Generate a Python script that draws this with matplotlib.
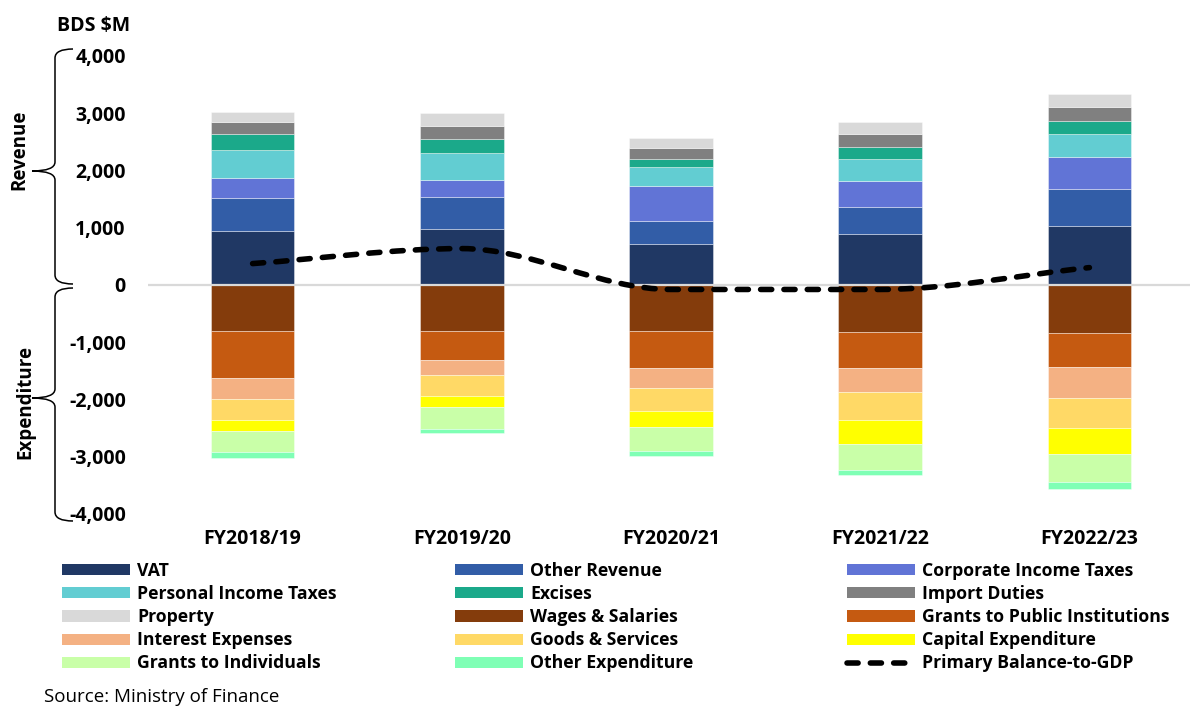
import matplotlib
matplotlib.use("Agg")
import matplotlib.pyplot as plt
import numpy as np
from matplotlib.path import Path
from matplotlib.patches import PathPatch, Patch
from matplotlib.lines import Line2D
from matplotlib.ticker import FuncFormatter

plt.rcParams['font.family'] = ['Open Sans', 'DejaVu Sans']

# Data (BDS $M)
categories = ['FY2018/19', 'FY2019/20', 'FY2020/21', 'FY2021/22', 'FY2022/23']

# Revenue
vat = [950, 978, 716, 898, 1038]
other_revenue = [570, 559, 409, 465, 646]
corporate_tax = [350, 304, 604, 447, 552]
personal_tax = [490, 460, 326, 390, 396]
excises = [270, 257, 145, 215, 239]
import_duties = [220, 220, 187, 217, 238]
property_tax = [165, 222, 187, 210, 222]

# Expenditure
wages = [803, 797, 797, 826, 844]
grants_public = [814, 519, 658, 629, 588]
interest = [379, 256, 349, 407, 547]
goods_services = [367, 372, 396, 489, 524]
capital_exp = [187, 187, 279, 431, 454]
grants_individuals = [367, 390, 424, 454, 484]
other_exp = [110, 70, 87, 82, 122]

# Primary balance line, drawn on the same scale
primary_balance = [374, 636, -78, -78, 304]

revenue = [
    ('VAT', vat, '#203864'),
    ('Other Revenue', other_revenue, '#325DA7'),
    ('Corporate Income Taxes', corporate_tax, '#6174D6'),
    ('Personal Income Taxes', personal_tax, '#62CDD2'),
    ('Excises', excises, '#1BA98A'),
    ('Import Duties', import_duties, '#808080'),
    ('Property', property_tax, '#D9D9D9'),
]
expenditure = [
    ('Wages & Salaries', wages, '#843C0C'),
    ('Grants to Public Institutions', grants_public, '#C55A11'),
    ('Interest Expenses', interest, '#F4B183'),
    ('Goods & Services', goods_services, '#FFD966'),
    ('Capital Expenditure', capital_exp, '#FFFF00'),
    ('Grants to Individuals', grants_individuals, '#C9FFA8'),
    ('Other Expenditure', other_exp, '#7FFFB5'),
]

W, H = 1190, 709
FS_TICK = 14
FS_LEG = 12.7
fig = plt.figure(figsize=(W / 100, H / 100), dpi=100)
ax = fig.add_axes([148 / W, 1 - 514 / H, 1046 / W, 458 / H])

x = np.arange(len(categories))
bw = 0.4
edge = (1, 1, 1, 0.45)

bottom = np.zeros(len(x))
for name, vals, col in revenue:
    v = np.array(vals, dtype=float)
    ax.bar(x, v, bottom=bottom, width=bw, color=col, edgecolor=edge, linewidth=0.6, zorder=2)
    bottom += v

bottom = np.zeros(len(x))
for name, vals, col in expenditure:
    v = -np.array(vals, dtype=float)
    ax.bar(x, v, bottom=bottom, width=bw, color=col, edgecolor=edge, linewidth=0.6, zorder=2)
    bottom += v

ax.axhline(0, color='#D9D9D9', lw=1.6, zorder=2.5)

# smoothed line through the points (monotone tangents, no overshoot)
xs = x.astype(float)
ys = np.array(primary_balance, dtype=float)
d = np.diff(ys) / np.diff(xs)
m = np.zeros(len(ys))
m[0], m[-1] = d[0], d[-1]
for i in range(1, len(ys) - 1):
    if d[i - 1] * d[i] > 0:
        m[i] = 2 / (1 / d[i - 1] + 1 / d[i])
verts = [(xs[0], ys[0])]
codes = [Path.MOVETO]
for i in range(len(xs) - 1):
    h = xs[i + 1] - xs[i]
    verts += [(xs[i] + h / 3, ys[i] + m[i] * h / 3),
              (xs[i + 1] - h / 3, ys[i + 1] - m[i + 1] * h / 3),
              (xs[i + 1], ys[i + 1])]
    codes += [Path.CURVE4] * 3
line_style = (0, (2.0, 2.2))
ax.add_patch(PathPatch(Path(verts, codes), fill=False, edgecolor='black', lw=4,
                       linestyle=line_style, capstyle='round', zorder=3))

ax.set_xlim(-0.5, 4.5)
ax.set_ylim(-4000, 4000)
ax.set_yticks(np.arange(-4000, 4001, 1000))
ax.yaxis.set_major_formatter(FuncFormatter(lambda v, p: f'{v:,.0f}'))
ax.set_xticks(x)
ax.set_xticklabels(categories)
ax.tick_params(axis='both', length=0, labelsize=FS_TICK)
ax.tick_params(axis='y', pad=16)
ax.tick_params(axis='x', pad=11)
for lab in ax.get_xticklabels() + ax.get_yticklabels():
    lab.set_fontweight('bold')
for s in ax.spines.values():
    s.set_visible(False)


# braces on the left
def brace(top, mid, bot):
    fx = lambda px: px / W
    fy = lambda py: 1 - py / H
    xr, xv, xt = 73, 55, 32
    r = 9
    v = [(xr, top), (xv, top), (xv, top + r),
         (xv, mid - r), (xv, mid), (xt, mid),
         (xv, mid), (xv, mid + r),
         (xv, bot - r), (xv, bot), (xr, bot)]
    c = [Path.MOVETO, Path.CURVE3, Path.CURVE3,
         Path.LINETO, Path.CURVE3, Path.CURVE3,
         Path.CURVE3, Path.CURVE3,
         Path.LINETO, Path.CURVE3, Path.CURVE3]
    v = [(fx(a), fy(b)) for a, b in v]
    fig.add_artist(PathPatch(Path(v, c), fill=False, edgecolor='black', lw=1.1,
                             transform=fig.transFigure))


brace(49, 171, 284)
brace(288, 398, 521)
fig.text(19 / W, 1 - 150 / H, 'Revenue', rotation=90, ha='center', va='center',
         fontsize=13.5, fontweight='bold')
fig.text(25 / W, 1 - 402 / H, 'Expenditure', rotation=90, ha='center', va='center',
         fontsize=13.5, fontweight='bold')
fig.text(57 / W, 1 - 26 / H, 'BDS $M', ha='left', va='center', fontsize=FS_TICK, fontweight='bold')
fig.text(44 / W, 1 - 697 / H, 'Source: Ministry of Finance', ha='left', va='center', fontsize=13.5)

# legend in three columns
handles = [Patch(facecolor=c, label=n) for n, _, c in revenue + expenditure]
handles.append(Line2D([], [], color='black', lw=4, linestyle=line_style,
                      dash_capstyle='round', label='Primary Balance-to-GDP'))
col_x = [62, 455, 847]
for j in range(3):
    hs = handles[j::3]
    leg = fig.legend(handles=hs, loc='upper left', bbox_to_anchor=(col_x[j] / W, 1 - 562 / H),
                     frameon=False, ncol=1, fontsize=FS_LEG, handlelength=3.85, handleheight=0.6,
                     handletextpad=0.4, labelspacing=0.29, borderpad=0, borderaxespad=0)
    for t in leg.get_texts():
        t.set_fontweight('bold')

fig.savefig('out.png', dpi=100)
